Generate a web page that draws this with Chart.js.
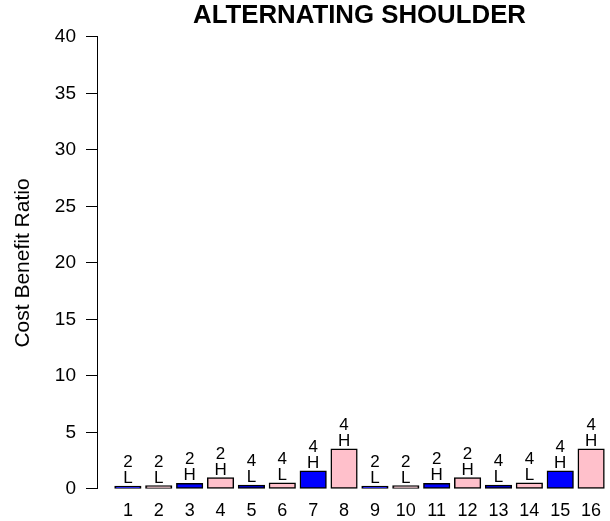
<!DOCTYPE html>
<html>
<head>
<meta charset="utf-8">
<script src="https://cdn.jsdelivr.net/npm/chart.js@4/dist/chart.umd.min.js"></script>
<style>
  html, body { margin: 0; padding: 0; background: #fff; overflow: hidden; }
  #wrap { width: 610px; height: 521px; overflow: hidden; }
  canvas { display: block; }
</style>
</head>
<body>
<div id="wrap"><canvas id="c" width="625" height="521"></canvas></div>
<script>
// Scenario index along the x axis
const categories = [1, 2, 3, 4, 5, 6, 7, 8, 9, 10, 11, 12, 13, 14, 15, 16];
// Cost benefit ratio for each scenario
const ratios = [0.25, 0.3, 0.5, 1.0, 0.35, 0.55, 1.6, 3.55,
                0.25, 0.3, 0.5, 1.0, 0.35, 0.55, 1.6, 3.55];
// Number of lanes and traffic level printed above each bar
const lanes  = ['2','2','2','2','4','4','4','4','2','2','2','2','4','4','4','4'];
const levels = ['L','L','H','H','L','L','H','H','L','L','H','H','L','L','H','H'];
// Bar fills alternate blue / pink
const fills = categories.map((c, i) => (i % 2 === 0 ? '#0000ff' : '#ffc0cb'));
const yTicks = [0, 5, 10, 15, 20, 25, 30, 35, 40];

const FONT = "'Liberation Sans', Arial, Helvetica, sans-serif";

// Two-line annotation (lanes over level) just above each bar
const barNotes = {
  id: 'barNotes',
  afterDatasetsDraw(chart) {
    const ctx = chart.ctx;
    const meta = chart.getDatasetMeta(0);
    ctx.save();
    ctx.fillStyle = '#000';
    ctx.font = '17px ' + FONT;
    ctx.textAlign = 'center';
    ctx.textBaseline = 'alphabetic';
    meta.data.forEach((bar, i) => {
      const top = Math.min(bar.y, bar.base);
      ctx.fillText(levels[i], bar.x, top - 3);
      ctx.fillText(lanes[i], bar.x, top - 19);
    });
    ctx.restore();
  }
};

new Chart(document.getElementById('c'), {
  type: 'bar',
  data: {
    datasets: [{
      data: ratios.map((v, i) => ({ x: categories[i], y: v })),
      backgroundColor: fills,
      borderColor: '#000',
      borderWidth: 1.5,
      borderSkipped: false,
      barThickness: 26.5
    }]
  },
  options: {
    responsive: false,
    animation: false,
    events: [],
    layout: { padding: { left: 0, right: 3, top: 0, bottom: 0 } },
    plugins: {
      legend: { display: false },
      tooltip: { enabled: false },
      title: {
        display: true,
        text: 'ALTERNATING SHOULDER',
        fullSize: false,
        color: '#000',
        font: { family: FONT, size: 25.8, weight: 'bold', lineHeight: 1.2 },
        padding: { top: 0, bottom: 6 }
      }
    },
    scales: {
      x: {
        type: 'linear',
        offset: false,
        min: 0,
        max: 17,
        grid: { display: false, drawTicks: false },
        border: { display: false },
        afterBuildTicks(scale) {
          scale.ticks = categories.map(v => ({ value: v }));
        },
        afterFit(scale) {
          scale.height = 32;
          scale.paddingLeft = 0;
          scale.paddingRight = 0;
        },
        ticks: {
          autoSkip: false,
          maxRotation: 0,
          color: '#000',
          padding: 11,
          font: { family: FONT, size: 18 },
          callback: v => String(v)
        }
      },
      y: {
        min: 0,
        max: 40,
        afterBuildTicks(scale) {
          scale.ticks = yTicks.map(v => ({ value: v }));
        },
        afterFit(scale) {
          scale.width = 97;
          scale.paddingTop = 0;
          scale.paddingBottom = 0;
        },
        grid: {
          drawOnChartArea: false,
          drawTicks: true,
          tickLength: 11,
          tickColor: '#000',
          tickWidth: 1
        },
        border: { display: true, color: '#000', width: 1 },
        ticks: {
          color: '#000',
          padding: 10,
          font: { family: FONT, size: 19 }
        },
        title: {
          display: true,
          text: 'Cost Benefit Ratio',
          color: '#000',
          font: { family: FONT, size: 21 },
          padding: { top: 11, bottom: 0 }
        }
      }
    }
  },
  plugins: [barNotes]
});
</script>
</body>
</html>
